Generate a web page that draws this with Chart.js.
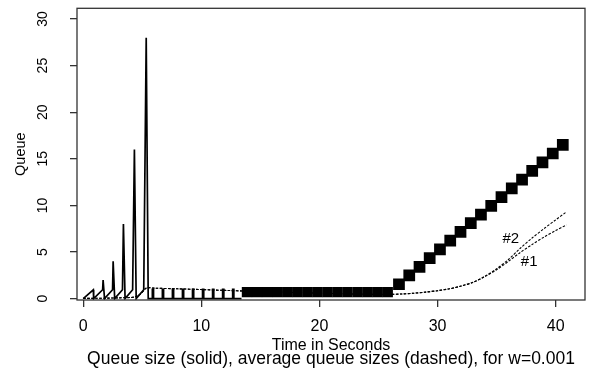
<!DOCTYPE html>
<html>
<head>
<meta charset="utf-8">
<script src="https://cdn.jsdelivr.net/npm/chart.js@4/dist/chart.umd.min.js"></script>
<style>
html, body { margin: 0; padding: 0; background: #fff; }
#wrap { width: 595px; height: 374px; }
</style>
</head>
<body>
<div id="wrap"><canvas id="queueChart" width="595" height="374"></canvas></div>
<script>
// queue size (solid line): slow-start bursts, then single packets
var queueTimes = [0, 0.85, 0.88, 1.64, 1.68, 1.8, 2.48, 2.53, 2.66, 3.32, 3.4, 3.54, 4.18, 4.33, 4.48, 5.12, 5.33, 5.5,
	5.85, 5.85, 5.95, 5.95, 6.7, 6.7, 6.8, 6.8, 7.55, 7.55, 7.65, 7.65, 8.4, 8.4, 8.5, 8.5,
	9.25, 9.25, 9.35, 9.35, 10.1, 10.1, 10.2, 10.2, 10.95, 10.95, 11.05, 11.05,
	11.8, 11.8, 11.9, 11.9, 12.65, 12.65, 12.75, 12.75, 13.4];
var queueValues = [0, 0.95, 0, 0.95, 2, 0, 0.95, 4, 0, 0.95, 8, 0, 0.95, 16, 0, 0.95, 28, 0,
	0, 1, 1, 0, 0, 1, 1, 0, 0, 1, 1, 0, 0, 1, 1, 0,
	0, 1, 1, 0, 0, 1, 1, 0, 0, 1, 1, 0,
	0, 1, 1, 0, 0, 1, 1, 0, 0];

// dense part of the queue, drawn as filled blocks: flat stretch, then the climb
var flatBlockTimes = [13.86, 14.71, 15.56, 16.41, 17.27, 18.12, 18.97, 19.82, 20.67, 21.52, 22.37, 23.23, 24.08, 24.93, 25.78];
var flatBlockValues = [0.7, 0.7, 0.7, 0.7, 0.7, 0.7, 0.7, 0.7, 0.7, 0.7, 0.7, 0.7, 0.7, 0.7, 0.7];
var riseBlockTimes = [26.73, 27.6, 28.47, 29.33, 30.2, 31.07, 31.94, 32.81, 33.67, 34.54, 35.41, 36.28, 37.15, 38.01, 38.88, 39.75, 40.6];
var riseBlockValues = [1.54, 2.48, 3.41, 4.35, 5.28, 6.22, 7.15, 8.09, 9.02, 9.96, 10.89, 11.83, 12.76, 13.7, 14.63, 15.57, 16.5];

// average queue sizes (dashed)
var avgTimes = [0, 1, 2, 3, 4, 4.4, 4.9, 5.35, 6, 8, 10, 12, 14, 16, 18, 20, 22, 24, 25.8,
	27, 28, 29, 30, 31, 32, 33, 34, 35, 36, 37, 38, 39, 40, 40.9];
var avg1Values = [0.02, 0.03, 0.05, 0.08, 0.12, 0.2, 0.55, 1.15, 1.12, 1.05, 0.97, 0.88, 0.8, 0.72, 0.65, 0.58, 0.52, 0.47, 0.45,
	0.5, 0.58, 0.7, 0.85, 1.05, 1.35, 1.75, 2.35, 3.1, 4.0, 4.95, 5.8, 6.6, 7.3, 7.9];
var avg2Values = [0.02, 0.03, 0.05, 0.08, 0.12, 0.2, 0.55, 1.15, 1.12, 1.05, 0.97, 0.88, 0.8, 0.72, 0.65, 0.58, 0.52, 0.47, 0.45,
	0.5, 0.58, 0.7, 0.85, 1.05, 1.35, 1.75, 2.4, 3.2, 4.2, 5.4, 6.5, 7.5, 8.45, 9.3];

var xTickValues = [0, 10, 20, 30, 40];
var yTickValues = [0, 5, 10, 15, 20, 25, 30];

var curveLabels = ['#2', '#1'];
var curveLabelTimes = [36.2, 37.75];
var curveLabelValues = [6.4, 3.9];

var caption = 'Queue size (solid), average queue sizes (dashed), for w=0.001';

function points(xs, ys) {
	return xs.map(function (x, i) { return { x: x, y: ys[i] }; });
}

var fontFamily = '"Liberation Sans", Arial, sans-serif';

// white page, box round the plot, #1 / #2 labels and the caption
var boxAndLabels = {
	id: 'boxAndLabels',
	beforeDraw: function (chart) {
		var ctx = chart.ctx;
		ctx.save();
		ctx.fillStyle = '#fff';
		ctx.fillRect(0, 0, chart.width, chart.height);
		ctx.restore();
	},
	afterDraw: function (chart) {
		var ctx = chart.ctx;
		var a = chart.chartArea;
		var xs = chart.scales.x, ys = chart.scales.y;
		ctx.save();
		ctx.strokeStyle = '#333';
		ctx.lineWidth = 1.3;
		ctx.strokeRect(a.left, a.top, a.right - a.left, a.bottom - a.top);
		ctx.fillStyle = '#000';
		ctx.font = '15px ' + fontFamily;
		ctx.textAlign = 'center';
		ctx.textBaseline = 'middle';
		curveLabels.forEach(function (txt, i) {
			ctx.fillText(txt, xs.getPixelForValue(curveLabelTimes[i]), ys.getPixelForValue(curveLabelValues[i]));
		});
		ctx.font = '17.5px ' + fontFamily;
		ctx.fillText(caption, (a.left + a.right) / 2, 359);
		ctx.restore();
	}
};

function noEdgePadding(s) {
	s.paddingTop = 0;
	s.paddingBottom = 0;
	s.paddingLeft = 0;
	s.paddingRight = 0;
}

var ctx = document.getElementById('queueChart').getContext('2d');

var queueChart = new Chart(ctx, {
	type: 'line',
	data: {
		datasets: [{
			label: 'queue',
			data: points(queueTimes, queueValues),
			borderColor: '#000',
			borderWidth: 1.7,
			pointRadius: 0,
			tension: 0
		}, {
			label: 'queue blocks flat',
			data: points(flatBlockTimes, flatBlockValues),
			showLine: false,
			pointStyle: 'rect',
			pointRadius: 7.3,
			pointBorderWidth: 0,
			pointBackgroundColor: '#000',
			pointBorderColor: '#000'
		}, {
			label: 'queue blocks rising',
			data: points(riseBlockTimes, riseBlockValues),
			showLine: false,
			pointStyle: 'rect',
			pointRadius: 8.3,
			pointBorderWidth: 0,
			pointBackgroundColor: '#000',
			pointBorderColor: '#000'
		}, {
			label: '#1',
			data: points(avgTimes, avg1Values),
			borderColor: '#000',
			borderWidth: 1.1,
			borderDash: [2.5, 1.5],
			pointRadius: 0,
			tension: 0.3
		}, {
			label: '#2',
			data: points(avgTimes, avg2Values),
			borderColor: '#000',
			borderWidth: 1.1,
			borderDash: [2.5, 1.5],
			pointRadius: 0,
			tension: 0.3
		}]
	},
	options: {
		responsive: false,
		animation: false,
		devicePixelRatio: 1,
		layout: { padding: { top: 5, right: 10, left: 0, bottom: 0 } },
		plugins: {
			legend: { display: false },
			tooltip: { enabled: false }
		},
		scales: {
			x: {
				type: 'linear',
				min: -0.53,
				max: 42.48,
				afterBuildTicks: function (s) { s.ticks = xTickValues.map(function (v) { return { value: v }; }); },
				afterFit: function (s) { s.height = 74; noEdgePadding(s); },
				border: { display: false },
				grid: { drawOnChartArea: false, drawTicks: true, tickLength: 7, color: '#333', lineWidth: 1.3 },
				ticks: { color: '#000', padding: 10, maxRotation: 0, autoSkip: false, font: { family: fontFamily, size: 16 } },
				title: {
					display: true,
					text: 'Time in Seconds',
					color: '#000',
					font: { family: fontFamily, size: 16, lineHeight: '16px' },
					padding: { top: 0, bottom: 20 }
				}
			},
			y: {
				type: 'linear',
				min: -0.15,
				max: 31.15,
				afterBuildTicks: function (s) { s.ticks = yTickValues.map(function (v) { return { value: v }; }); },
				afterFit: function (s) { s.width = 77; noEdgePadding(s); },
				border: { display: false },
				grid: { drawOnChartArea: false, drawTicks: true, tickLength: 7, color: '#333', lineWidth: 1.3 },
				ticks: { color: '#000', padding: 19, minRotation: 90, maxRotation: 90, crossAlign: 'center', autoSkip: false, font: { family: fontFamily, size: 14 } },
				title: {
					display: true,
					text: 'Queue',
					color: '#000',
					font: { family: fontFamily, size: 14.5, lineHeight: '16px' },
					padding: { top: 13, bottom: 0 }
				}
			}
		}
	},
	plugins: [boxAndLabels]
});
</script>
</body>
</html>
